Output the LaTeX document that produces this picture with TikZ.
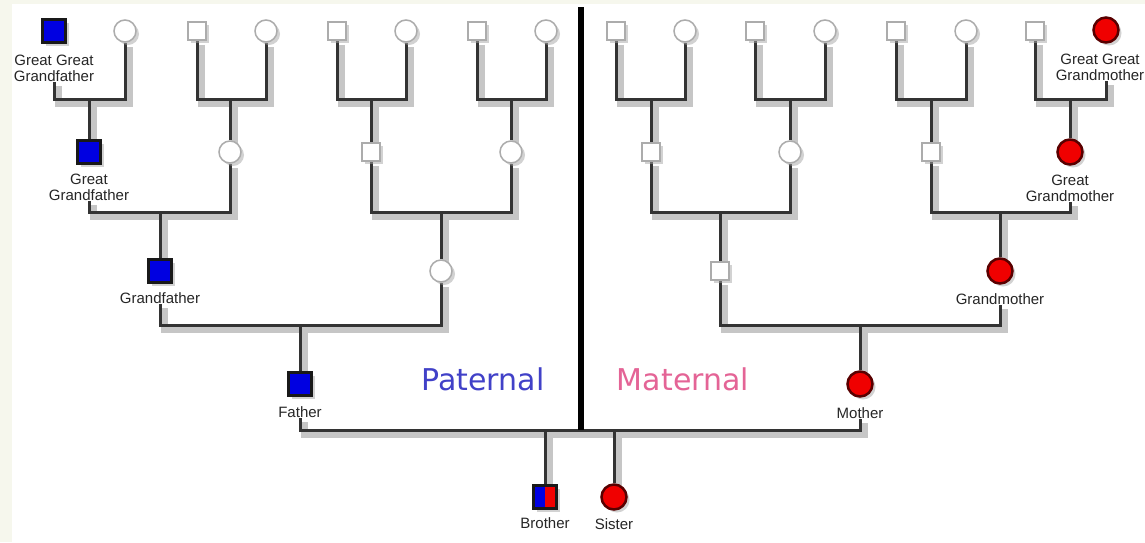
\documentclass[tikz,border=0pt]{standalone}
\usepackage{fontspec}
\setmainfont{Liberation Sans}
\newfontfamily\bigfont{DejaVu Sans}
\usetikzlibrary{shadows}
\pgfdeclarelayer{back}
\pgfdeclarelayer{bg}
\pgfsetlayers{back,bg,main}
\definecolor{beige}{RGB}{246,247,237}
\definecolor{patblue}{RGB}{65,65,200}
\definecolor{matpink}{RGB}{228,100,150}
\definecolor{mblue}{RGB}{0,0,225}
\definecolor{mred}{RGB}{240,0,0}
\newcommand{\famlink}[5]{\draw[#5] (#1.south) |- (#3.north |- #4) -| (#2.south); \draw[#5] (#3.north |- #4) -- (#3.north);}
\begin{document}
\begin{tikzpicture}[x=1pt,y=-1pt,
  nshadow/.style={drop shadow={shadow xshift=3pt,shadow yshift=-3pt,fill=gray!70,opacity=0.5}},
  wsq/.style={rectangle,draw=gray!65,fill=white,line width=1.5pt,minimum size=18pt,inner sep=0pt,nshadow},
  wci/.style={circle,draw=gray!65,fill=white,line width=1.5pt,minimum size=22pt,inner sep=0pt,nshadow},
  bsq/.style={rectangle,draw=black!90,fill=mblue,line width=2.5pt,minimum size=23pt,inner sep=0pt,nshadow},
  rci/.style={circle,draw=red!35!black,fill=mred,line width=2.5pt,minimum size=25pt,inner sep=0pt,nshadow},
  lbl/.style={anchor=north,inner sep=0pt,align=center,text=black!85,font=\fontsize{15}{16.5}\selectfont},
  conn/.style={draw=black!80,line width=3pt},
  shad/.style={draw=gray!45,line width=7pt},
  divider/.style={draw=black,line width=6pt},
  sidelbl/.style={anchor=base,inner sep=0pt,font=\bigfont\fontsize{30}{30}\selectfont}]
\useasboundingbox (0,0) rectangle (1145,542);
\begin{pgfonlayer}{back}
\fill[white] (0,0) rectangle (1145,542);
\fill[beige] (0,0) rectangle (12,542);
\fill[beige] (0,0) rectangle (1145,4);
\end{pgfonlayer}
% bar levels
\coordinate (ya) at (0,99);
\coordinate (yb) at (0,212);
\coordinate (yc) at (0,325);
\coordinate (yd) at (0,430);
% top row
\node[bsq] (t1) at (54,31) {};
\node[wci] (t2) at (125,31) {};
\node[wsq] (t3) at (197,31) {};
\node[wci] (t4) at (266,31) {};
\node[wsq] (t5) at (337,31) {};
\node[wci] (t6) at (406,31) {};
\node[wsq] (t7) at (477,31) {};
\node[wci] (t8) at (546,31) {};
\node[wsq] (t9) at (616,31) {};
\node[wci] (t10) at (685,31) {};
\node[wsq] (t11) at (755,31) {};
\node[wci] (t12) at (825,31) {};
\node[wsq] (t13) at (896,31) {};
\node[wci] (t14) at (966,31) {};
\node[wsq] (t15) at (1035,31) {};
\node[rci] (t16) at (1106,30) {};
\node[lbl] (t1l) at ([yshift=-11pt]t1.south) {Great Great\\Grandfather};
\node[lbl] (t16l) at ([xshift=-6pt,yshift=-10pt]t16.south) {Great Great\\Grandmother};
\coordinate (t16e) at (t16.south |- t16l.south);
% second row
\node[bsq] (s1) at (89,152) {};
\node[wci] (s2) at (230,152) {};
\node[wsq] (s3) at (371,152) {};
\node[wci] (s4) at (511,152) {};
\node[wsq] (s5) at (651,152) {};
\node[wci] (s6) at (790,152) {};
\node[wsq] (s7) at (931,152) {};
\node[rci] (s8) at (1070,152) {};
\node[lbl] (s1l) at ([yshift=-9pt]s1.south) {Great\\Grandfather};
\node[lbl] (s8l) at ([yshift=-9pt]s8.south) {Great\\Grandmother};
% third row
\node[bsq] (r1) at (160,271) {};
\node[wci] (r2) at (441,271) {};
\node[wsq] (r3) at (720,271) {};
\node[rci] (r4) at (1000,271) {};
\node[lbl] (r1l) at ([yshift=-9pt]r1.south) {Grandfather};
\node[lbl] (r4l) at ([yshift=-9pt]r4.south) {Grandmother};
% parents
\node[bsq] (f) at (300,384) {};
\node[rci] (m) at (860,384) {};
\node[lbl] (fl) at ([yshift=-10pt]f.south) {Father};
\node[lbl] (ml) at ([yshift=-10pt]m.south) {Mother};
% children
\node[bsq,fill=white,path picture={
  \fill[mblue] (path picture bounding box.south west) rectangle (path picture bounding box.north);
  \fill[mred] (path picture bounding box.south) rectangle (path picture bounding box.north east);}] (b) at (545,497) {};
\node[rci] (si) at (614,497) {};
\node[lbl] (bl) at ([yshift=-8pt]b.south) {Brother};
\node[lbl] (sil) at ([yshift=-8pt]si.south) {Sister};
% side labels
\node[sidelbl,text=patblue] (pat) at (483,390) {Paternal};
\node[sidelbl,text=matpink] (mat) at (683,390) {Maternal};
% divider
\coordinate (dtop) at (581,7);
\coordinate (dbot) at (581,430);
\begin{pgfonlayer}{bg}
\begin{scope}[transform canvas={shift={(4pt,-4pt)}}]
\famlink{t1l}{t2}{s1}{ya}{shad}
\famlink{t3}{t4}{s2}{ya}{shad}
\famlink{t5}{t6}{s3}{ya}{shad}
\famlink{t7}{t8}{s4}{ya}{shad}
\famlink{t9}{t10}{s5}{ya}{shad}
\famlink{t11}{t12}{s6}{ya}{shad}
\famlink{t13}{t14}{s7}{ya}{shad}
\draw[shad] (t15.south) |- (s8.north |- ya) -- (t16e |- ya) -- (t16e);
\draw[shad] (s8.north |- ya) -- (s8.north);
\famlink{s1l}{s2}{r1}{yb}{shad}
\famlink{s3}{s4}{r2}{yb}{shad}
\famlink{s5}{s6}{r3}{yb}{shad}
\famlink{s7}{s8l}{r4}{yb}{shad}
\famlink{r1l}{r2}{f}{yc}{shad}
\famlink{r3}{r4l}{m}{yc}{shad}
\draw[shad] (fl.south) -- (fl.south |- yd) -- (ml.south |- yd) -- (ml.south);
\draw[shad] (b.north |- yd) -- (b.north);
\draw[shad] (si.north |- yd) -- (si.north);
\end{scope}
\famlink{t1l}{t2}{s1}{ya}{conn}
\famlink{t3}{t4}{s2}{ya}{conn}
\famlink{t5}{t6}{s3}{ya}{conn}
\famlink{t7}{t8}{s4}{ya}{conn}
\famlink{t9}{t10}{s5}{ya}{conn}
\famlink{t11}{t12}{s6}{ya}{conn}
\famlink{t13}{t14}{s7}{ya}{conn}
\draw[conn] (t15.south) |- (s8.north |- ya) -- (t16e |- ya) -- (t16e);
\draw[conn] (s8.north |- ya) -- (s8.north);
\famlink{s1l}{s2}{r1}{yb}{conn}
\famlink{s3}{s4}{r2}{yb}{conn}
\famlink{s5}{s6}{r3}{yb}{conn}
\famlink{s7}{s8l}{r4}{yb}{conn}
\famlink{r1l}{r2}{f}{yc}{conn}
\famlink{r3}{r4l}{m}{yc}{conn}
\draw[conn] (fl.south) -- (fl.south |- yd) -- (ml.south |- yd) -- (ml.south);
\draw[conn] (b.north |- yd) -- (b.north);
\draw[conn] (si.north |- yd) -- (si.north);
\end{pgfonlayer}
\draw[divider] (dtop) -- (dbot);
\end{tikzpicture}
\end{document}
